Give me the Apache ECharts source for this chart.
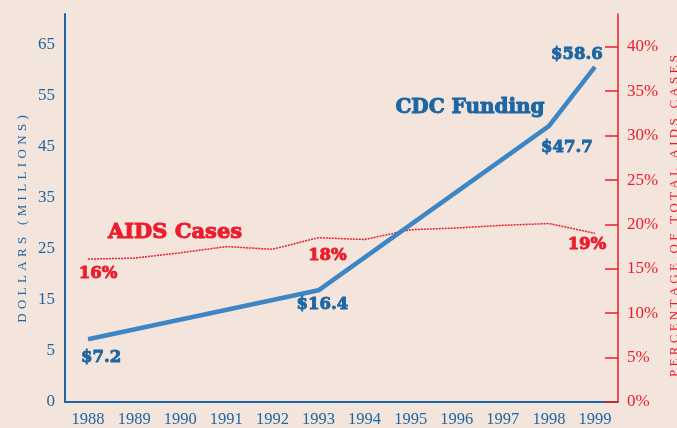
<!DOCTYPE html>
<html>
<head>
<meta charset="utf-8">
<script src="https://cdn.jsdelivr.net/npm/echarts@6/dist/echarts.min.js"></script>
<style>
  html, body { margin: 0; padding: 0; background: #f3e5dc; }
  #chart { width: 677px; height: 428px; }
</style>
</head>
<body>
<div id="chart"></div>
<script>
const years = ['1988', '1989', '1990', '1991', '1992', '1993', '1994', '1995', '1996', '1997', '1998', '1999']
// CDC funding ($ millions) where the line bends; straight runs in between
const funding = [7.3, null, null, null, null, 16.9, null, null, null, null, 49.1, 60.7]
// the figures printed next to the line
const fundingPrinted = [7.2, null, null, null, null, 16.4, null, null, null, null, 47.7, 58.6]
// AIDS cases, % of total
const aidsShare = [16.1, 16.2, 16.8, 17.5, 17.2, 18.5, 18.3, 19.4, 19.6, 19.9, 20.1, 19.0]
const aidsPrinted = [16, null, null, null, null, 18, null, null, null, null, null, 19]
// left ticks; the bottom one is printed as "0"
const dollarTicks = [-5, 5, 15, 25, 35, 45, 55, 65]
const percentTicks = [0, 5, 10, 15, 20, 25, 30, 35, 40]

const blue = '#1d66a3'
const lineBlue = '#3c86c5'
const red = '#ec1c2d'
const serif = '"Liberation Serif", "DejaVu Serif", serif'
const slab = '"DejaVu Serif", serif'

// label offsets from the point, by index
const fundOffsets = { 0: [13, 18], 5: [4, 14], 10: [18, 22], 11: [-18, -12] }
const aidsOffsets = { 0: [10, 15], 5: [9, 18], 11: [-8, 11] }

function withLabels(values, printed, offsets, fmt) {
    return values.map((v, i) => printed[i] == null ? v : {
        value: v,
        label: { show: true, formatter: fmt(printed[i]), offset: offsets[i] }
    })
}
const spaced = (s, gap) => s.split('').join(gap)

// heavy slab look: bold + a thin stroke in the same colour
const heavy = (color, size) => ({
    color, fontFamily: slab, fontWeight: 'bold', fontSize: size,
    textBorderColor: color, textBorderWidth: 0.9,
})

const chart = echarts.init(document.getElementById('chart'))
const option = {
    backgroundColor: '#f3e5dc',
    animation: false,
    grid: { left: 65, right: 59, top: 14, bottom: 26 },
    xAxis: {
        type: 'category',
        data: years,
        boundaryGap: true,
        axisLine: { onZero: false, lineStyle: { color: blue, width: 2 } },
        axisTick: { inside: true, length: 9, alignWithLabel: true, lineStyle: { color: blue, width: 1.5 } },
        axisLabel: { color: blue, fontFamily: serif, fontSize: 16.5, margin: 9 },
    },
    yAxis: [
        {
            type: 'value',
            min: -5,
            max: 71.07,
            splitLine: { show: false },
            axisLine: { show: true, lineStyle: { color: blue, width: 2 } },
            axisTick: { show: false },
            axisLabel: {
                customValues: dollarTicks,
                formatter: v => v === -5 ? '0' : String(v),
                color: blue, fontFamily: serif, fontSize: 17, margin: 10,
            },
        },
        {
            type: 'value',
            position: 'right',
            min: 0,
            max: 43.7,
            splitLine: { show: false },
            axisLine: { show: true, lineStyle: { color: red, width: 1.5 } },
            axisTick: { show: true, inside: true, length: 13, customValues: percentTicks, lineStyle: { color: red, width: 1.5 } },
            axisLabel: {
                customValues: percentTicks,
                formatter: v => v + '%',
                color: red, fontFamily: serif, fontSize: 17, margin: 9,
            },
        },
    ],
    series: [
        {
            name: 'AIDS Cases',
            type: 'line',
            yAxisIndex: 1,
            data: withLabels(aidsShare, aidsPrinted, aidsOffsets, v => v + '%'),
            symbol: 'circle',
            symbolSize: 0,
            lineStyle: { color: red, width: 1.5, type: [2, 1] },
            itemStyle: { color: red },
            label: Object.assign({ position: 'inside' }, heavy(red, 16.5)),
            z: 2,
        },
        {
            name: 'CDC Funding',
            type: 'line',
            yAxisIndex: 0,
            data: withLabels(funding, fundingPrinted, fundOffsets, v => '$' + v),
            connectNulls: true,
            symbol: 'circle',
            symbolSize: 0,
            lineStyle: { color: lineBlue, width: 4.5 },
            itemStyle: { color: lineBlue },
            label: Object.assign({ position: 'inside' }, heavy(blue, 16.5)),
            z: 3,
        },
    ],
    graphic: [
        { type: 'text', x: 470, y: 108, style: { text: 'CDC Funding', font: 'bold 20px ' + slab, fill: blue, stroke: blue, lineWidth: 1, textAlign: 'center', textVerticalAlign: 'middle' } },
        { type: 'text', x: 175, y: 233, style: { text: 'AIDS Cases', font: 'bold 21px ' + slab, fill: red, stroke: red, lineWidth: 1, textAlign: 'center', textVerticalAlign: 'middle' } },
        { type: 'text', x: 23, y: 219, rotation: Math.PI / 2, style: { text: spaced('DOLLARS (MILLIONS)', '\u2004'), font: '13px ' + serif, fill: blue, textAlign: 'center', textVerticalAlign: 'middle' } },
        { type: 'text', x: 675, y: 216, rotation: Math.PI / 2, style: { text: spaced('PERCENTAGE OF TOTAL AIDS CASES', '\u2005'), font: '13px ' + serif, fill: red, textAlign: 'center', textVerticalAlign: 'middle' } },
    ],
}
chart.setOption(option)
</script>
</body>
</html>
